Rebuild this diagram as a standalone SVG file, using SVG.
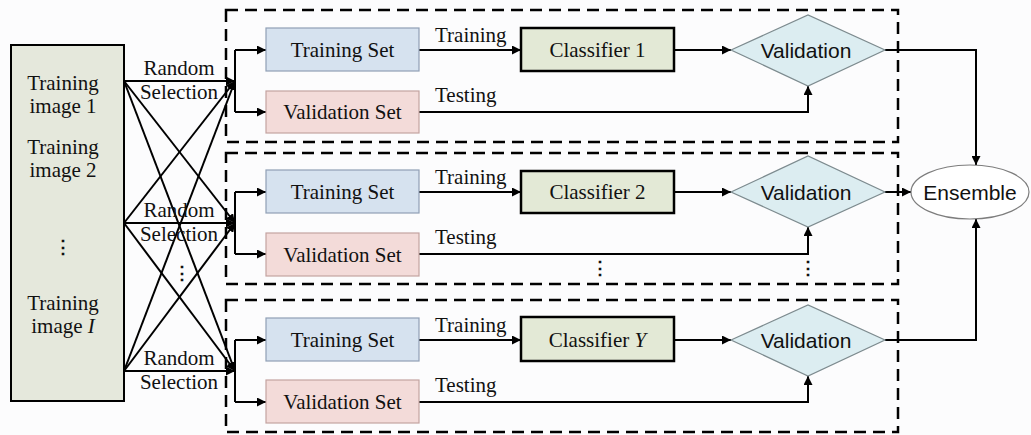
<svg xmlns="http://www.w3.org/2000/svg" width="1031" height="435" viewBox="0 0 1031 435">
<defs>
<marker id="ah" viewBox="0 0 10 10" refX="10" refY="5" markerWidth="9" markerHeight="9" markerUnits="userSpaceOnUse" orient="auto">
<path d="M0,0 L10,5 L0,10 Z" fill="#000"/>
</marker>
<style>
.serif{font-family:"Liberation Serif","Times New Roman",serif;font-size:21px;fill:#111}
.sans{font-family:"Liberation Sans",Arial,sans-serif;font-size:21px;fill:#111}
.dots{font-family:"DejaVu Serif","Liberation Serif",serif;font-size:18px;font-weight:bold;fill:#111}
.mid{text-anchor:middle}
.dash{fill:none;stroke:#000;stroke-width:2.5;stroke-dasharray:12 7}
.ts{fill:#d6e2ef;stroke:#8f9fb5;stroke-width:1.2}
.vs{fill:#f3dbd9;stroke:#c4a3a1;stroke-width:1.2}
.cl{fill:#e3e9d6;stroke:#000;stroke-width:2.5}
.dm{fill:#dcedf1;stroke:#7d8b8f;stroke-width:1.2}
.ln{fill:none;stroke:#000;stroke-width:2}
.arr{fill:none;stroke:#000;stroke-width:2;marker-end:url(#ah)}
</style>
</defs>
<rect x="0" y="0" width="1031" height="435" fill="#fcfcfd"/>

<g id="groups">
<rect class="dash" x="226" y="10" width="672" height="132"/>
<rect class="dash" x="226" y="153" width="672" height="131"/>
<rect class="dash" x="226" y="300" width="672" height="132"/>
</g>

<g id="training-images">
<rect x="11" y="45" width="113" height="356" fill="#e5e8dc" stroke="#000" stroke-width="2"/>
<text class="serif mid" x="63" y="90">Training</text>
<text class="serif mid" x="63" y="113">image 1</text>
<text class="serif mid" x="63" y="154">Training</text>
<text class="serif mid" x="63" y="177">image 2</text>
<text class="dots mid" x="63" y="253">⋮</text>
<text class="serif mid" x="63" y="310">Training</text>
<text class="serif mid" x="63" y="333">image <tspan font-style="italic">I</tspan></text>
</g>

<g id="connectors">
<!-- random selection crossing lines -->
<path class="arr" d="M124,81 L235,81"/>
<path class="arr" d="M124,223 L235,81"/>
<path class="arr" d="M124,371 L235,81"/>
<path class="arr" d="M124,81 L235,223"/>
<path class="arr" d="M124,223 L235,223"/>
<path class="arr" d="M124,371 L235,223"/>
<path class="arr" d="M124,81 L235,371"/>
<path class="arr" d="M124,223 L235,371"/>
<path class="arr" d="M124,371 L235,371"/>
<!-- branches -->
<path class="ln" d="M235,50 L235,112"/>
<path class="arr" d="M235,50 L266,50"/>
<path class="arr" d="M235,112 L266,112"/>
<path class="ln" d="M235,192 L235,254"/>
<path class="arr" d="M235,192 L266,192"/>
<path class="arr" d="M235,254 L266,254"/>
<path class="ln" d="M235,340 L235,402"/>
<path class="arr" d="M235,340 L266,340"/>
<path class="arr" d="M235,402 L266,402"/>
<!-- training -->
<path class="arr" d="M419,50 L521,50"/>
<path class="arr" d="M419,192 L521,192"/>
<path class="arr" d="M419,340 L521,340"/>
<!-- classifier to validation -->
<path class="arr" d="M674,50 L731,50"/>
<path class="arr" d="M674,192 L731,192"/>
<path class="arr" d="M674,340 L731,340"/>
<!-- testing -->
<path class="arr" d="M419,112 L808,112 L808,86"/>
<path class="arr" d="M419,254 L808,254 L808,227"/>
<path class="arr" d="M419,402 L808,402 L808,376"/>
<!-- to ensemble -->
<path class="arr" d="M885,50 L976,50 L976,165"/>
<path class="arr" d="M885,192 L911,192"/>
<path class="arr" d="M885,340 L976,340 L976,219"/>
</g>

<g id="labels">
<text class="serif mid" x="179" y="75">Random</text>
<text class="serif mid" x="179" y="99">Selection</text>
<text class="serif mid" x="179" y="217">Random</text>
<text class="serif mid" x="179" y="241">Selection</text>
<text class="serif mid" x="179" y="365">Random</text>
<text class="serif mid" x="179" y="389">Selection</text>
<text class="serif" x="435" y="42">Training</text>
<text class="serif" x="435" y="102">Testing</text>
<text class="serif" x="435" y="184">Training</text>
<text class="serif" x="435" y="244">Testing</text>
<text class="serif" x="435" y="332">Training</text>
<text class="serif" x="435" y="392">Testing</text>
<text class="dots mid" x="182" y="279">⋮</text>
<text class="dots mid" x="600" y="274">⋮</text>
<text class="dots mid" x="808" y="274">⋮</text>
</g>

<g id="training-set-1"><rect class="ts" x="266" y="28" width="153" height="43"/><text class="serif mid" x="342.5" y="57">Training Set</text></g>
<g id="validation-set-1"><rect class="vs" x="266" y="91" width="153" height="42"/><text class="serif mid" x="342.5" y="119">Validation Set</text></g>
<g id="classifier-1"><rect class="cl" x="521" y="28" width="153" height="43"/><text class="serif mid" x="597.5" y="57">Classifier 1</text></g>
<g id="validation-1"><polygon class="dm" points="731,50 808,15 885,50 808,86"/><text class="sans mid" x="806" y="58">Validation</text></g>

<g id="training-set-2"><rect class="ts" x="266" y="170" width="153" height="43"/><text class="serif mid" x="342.5" y="199">Training Set</text></g>
<g id="validation-set-2"><rect class="vs" x="266" y="233" width="153" height="43"/><text class="serif mid" x="342.5" y="262">Validation Set</text></g>
<g id="classifier-2"><rect class="cl" x="521" y="171" width="153" height="42"/><text class="serif mid" x="597.5" y="199">Classifier 2</text></g>
<g id="validation-2"><polygon class="dm" points="731,192 808,156 885,192 808,227"/><text class="sans mid" x="806" y="200">Validation</text></g>

<g id="training-set-3"><rect class="ts" x="266" y="318" width="153" height="43"/><text class="serif mid" x="342.5" y="347">Training Set</text></g>
<g id="validation-set-3"><rect class="vs" x="266" y="380" width="153" height="43"/><text class="serif mid" x="342.5" y="409">Validation Set</text></g>
<g id="classifier-y"><rect class="cl" x="521" y="317" width="153" height="44"/><text class="serif mid" x="597.5" y="347">Classifier <tspan font-style="italic">Y</tspan></text></g>
<g id="validation-3"><polygon class="dm" points="731,340 808,305 885,340 808,376"/><text class="sans mid" x="806" y="348">Validation</text></g>

<g id="ensemble"><ellipse cx="970" cy="192" rx="59" ry="27" fill="#fff" stroke="#7d7d7d" stroke-width="1.2"/><text class="sans mid" x="970" y="200">Ensemble</text></g>
</svg>
